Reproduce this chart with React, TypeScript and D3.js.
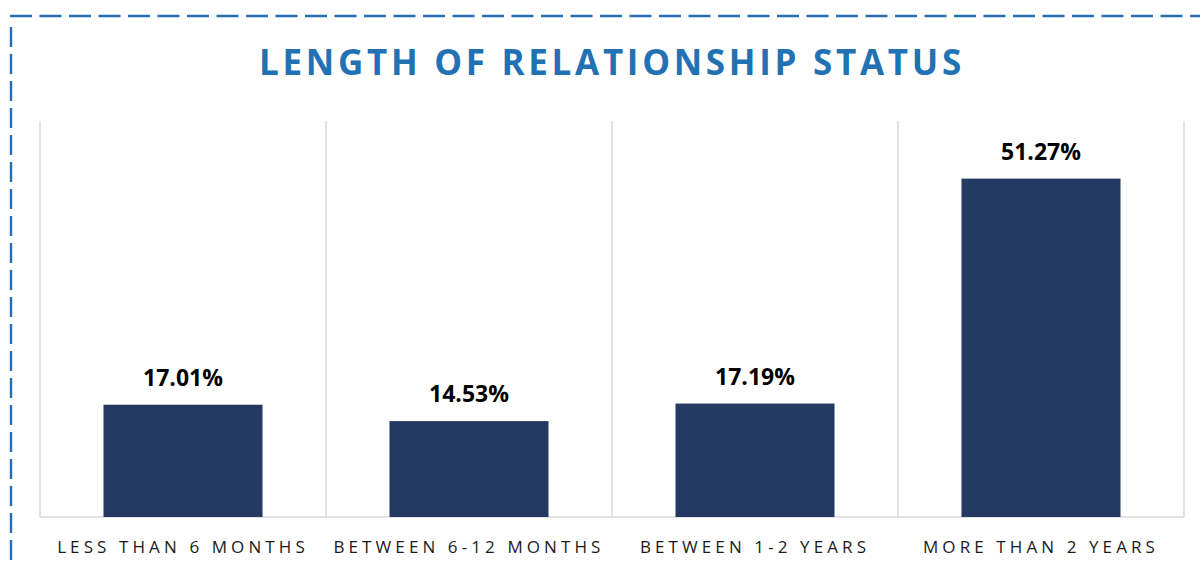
import React, { useEffect, useRef } from 'react';
import * as d3 from 'd3';

const categories = ['LESS THAN 6 MONTHS', 'BETWEEN 6-12 MONTHS', 'BETWEEN 1-2 YEARS', 'MORE THAN 2 YEARS'];
const values = [17.01, 14.53, 17.19, 51.27];
const title = 'LENGTH OF RELATIONSHIP STATUS';

const W = 1200;
const H = 567;
const FONT = '"Open Sans", "Noto Sans", sans-serif';

const App = () => {
  const svgRef = useRef<SVGSVGElement>(null);

  useEffect(() => {
    const svg = d3.select(svgRef.current).attr('width', W).attr('height', H);
    svg.selectAll('*').remove();

    const margin = { top: 121, right: 16, bottom: 50, left: 40 };
    const plotW = W - margin.left - margin.right;
    const plotH = H - margin.top - margin.bottom;

    // dashed frame (runs off the right and bottom of the picture)
    svg.append('line')
      .attr('x1', 10).attr('y1', 16).attr('x2', W + 10).attr('y2', 16)
      .attr('stroke', '#2271B3').attr('stroke-width', 2.4)
      .attr('stroke-dasharray', '22 7.5');
    svg.append('line')
      .attr('x1', 11).attr('y1', 27).attr('x2', 11).attr('y2', H + 10)
      .attr('stroke', '#2271B3').attr('stroke-width', 2.4)
      .attr('stroke-dasharray', '20 7');

    svg.append('text')
      .attr('x', 612).attr('y', 75)
      .attr('text-anchor', 'middle')
      .attr('font-family', FONT)
      .attr('font-weight', 700)
      .attr('font-size', 35)
      .attr('letter-spacing', 3.7)
      .attr('fill', '#2271B3')
      .text(title);

    const x = d3.scaleBand().domain(categories).range([0, plotW]).paddingInner(0).paddingOuter(0);
    const y = d3.scaleLinear().domain([0, 60]).range([plotH, 0]);

    const g = svg.append('g').attr('transform', `translate(${margin.left},${margin.top})`);

    // vertical separators between categories
    const seps = d3.range(categories.length + 1).map((i) => i * x.bandwidth());
    g.selectAll('line.sep')
      .data(seps)
      .join('line')
      .attr('class', 'sep')
      .attr('x1', (d) => d).attr('x2', (d) => d)
      .attr('y1', 0).attr('y2', plotH)
      .attr('stroke', '#D9D9D9').attr('stroke-width', 1.5);

    g.append('line')
      .attr('x1', 0).attr('x2', plotW)
      .attr('y1', plotH).attr('y2', plotH)
      .attr('stroke', '#D9D9D9').attr('stroke-width', 1.5);

    const barW = x.bandwidth() * 0.556;

    g.selectAll('rect.bar')
      .data(values)
      .join('rect')
      .attr('class', 'bar')
      .attr('x', (_, i) => x(categories[i])! + (x.bandwidth() - barW) / 2)
      .attr('y', (d) => y(d))
      .attr('width', barW)
      .attr('height', (d) => plotH - y(d))
      .attr('fill', '#243A63');

    g.selectAll('text.val')
      .data(values)
      .join('text')
      .attr('class', 'val')
      .attr('x', (_, i) => x(categories[i])! + x.bandwidth() / 2)
      .attr('y', (d) => y(d) - 19)
      .attr('text-anchor', 'middle')
      .attr('font-family', FONT)
      .attr('font-weight', 700)
      .attr('font-size', 23)
      .attr('fill', '#000')
      .text((d) => `${d.toFixed(2)}%`);

    g.selectAll('text.cat')
      .data(categories)
      .join('text')
      .attr('class', 'cat')
      .attr('x', (d) => x(d)! + x.bandwidth() / 2)
      .attr('y', plotH + 36)
      .attr('text-anchor', 'middle')
      .attr('font-family', FONT)
      .attr('font-size', 17)
      .attr('letter-spacing', 4.1)
      .attr('fill', '#1a1a1a')
      .text((d) => d);
  }, []);

  return (
    <div style={{ position: 'absolute', left: 0, top: 0 }}>
      <svg ref={svgRef} style={{ display: 'block', background: '#fff' }}></svg>
    </div>
  );
};

export default App;
